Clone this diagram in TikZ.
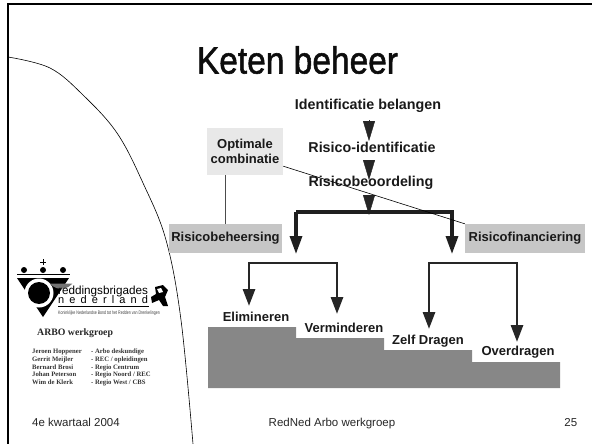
\documentclass[tikz,border=0pt]{standalone}
\usepackage{fontspec}
\setmainfont{Liberation Sans}
\newfontfamily\serifarbo{Liberation Serif}
\newfontfamily\titelfont[FakeBold = 1.5]{Liberation Sans}
\usetikzlibrary{calc, arrows.meta}

\tikzset{
	kopje/.style = {font = \bfseries\fontsize{13}{15}\selectfont, align = center, text = black!90},
	groot/.style = {kopje, font = \bfseries\fontsize{14.3}{16}\selectfont},
	blokje/.style = {kopje, fill = gray!45, minimum width = 113pt, minimum height = 29pt, inner sep = 0pt},
	voet/.style = {font = \fontsize{11.5}{13}\selectfont, text = black!85, inner sep = 0pt},
	naam/.style = {font = \serifarbo\bfseries\fontsize{6.7}{7}\selectfont, anchor = base west, inner sep = 0pt, text = black!80},
	pijl/.style = {line width = 3.3pt, draw = black!88, -{Triangle[width = 12pt, length = 18pt]}},
	tak/.style = {line width = 2.9pt, draw = black!85, -{Triangle[width = 12pt, length = 17pt]}},
	stap/.style = {draw = black!85, fill = black!85, -{Triangle[width = 12pt, length = 20pt]}}
}

\begin{document}
\begin{tikzpicture}[x = 1pt, y = -1pt]
		\def\xMAX{592};
		\def\yMAX{444};

		\useasboundingbox (0,0) rectangle (\xMAX,\yMAX);

		\draw [line width = 2pt] (8,\yMAX) -- (8,4) -- (\xMAX,4);
		\draw [line width = 0.6pt] plot [smooth, tension = 0.6] coordinates {(8,57) (50,68) (83,95) (117,133) (143,183) (166,240) (181,320) (193,\yMAX)};

		\node [font = \titelfont\fontsize{33.5}{36}\selectfont, text = black!95, yscale = 1.13] (Titel) at (297.5,60) {Keten beheer};

		\fill [black!47] (208,388) -- (208,327) -- (296,327) -- (296,338) -- (384,338) -- (384,350) -- (472,350) -- (472,362) -- (560,362) -- (560,388) -- cycle;

		\node [groot] (Identificatie) at (368,106) {Identificatie belangen};
		\node [groot] (RisicoId) at (372,147) {Risico-identificatie};
		\node [groot] (Beoordeling) at (371,183) {Risicobeoordeling};

		\node [kopje, fill = gray!18, minimum width = 76pt, minimum height = 47pt, inner sep = 0pt] (Optimale) at (245,151.5) {Optimale\\combinatie};
		\node [blokje] (Beheersing) at (225.5,238.5) {Risicobeheersing};
		\node [blokje, minimum width = 120pt] (Financiering) at (525,238.5) {Risicofinanciering};

		\coordinate (Splits) at (369,212);
		\coordinate (SplitsL) at (296,212);
		\coordinate (SplitsR) at (452,212);
		\coordinate (EindL) at (296,254);
		\coordinate (EindR) at (452,254);

		\draw [stap] (369,120) -- (369,141);
		\draw [stap] (369,160) -- (369,180);
		\draw [stap] (369,195) -- (369,215);

		\draw [pijl] (EindL |- Splits) -- (SplitsR) -- (EindR);
		\draw [pijl] (SplitsL) -- (EindL);

		\draw [line width = 1.2pt, black!70] (Optimale.south -| Beheersing) -- (Beheersing.north);
		\draw [line width = 0.6pt] (Optimale.-21) -- (Financiering.north west);

		\node [kopje] (Elimineren) at (256,317) {Elimineren};
		\node [kopje] (Verminderen) at (344,328) {Verminderen};
		\node [kopje] (ZelfDragen) at (428,341) {Zelf Dragen};
		\node [kopje] (Overdragen) at (518,352) {Overdragen};

		\coordinate (TakA) at (249,263);
		\coordinate (TakB) at (337,263);
		\coordinate (TakC) at (429,263);
		\coordinate (TakD) at (517,263);

		\draw [tak] (TakB) -- (TakA) -- (249,306);
		\draw [tak] (TakA) -- (TakB) -- (337,314);
		\draw [tak] (TakD) -- (TakC) -- (429,329);
		\draw [tak] (TakC) -- (TakD) -- (517,342);

		\begin{scope}
			\fill (24,270) circle (3);
			\fill (43,270) circle (3);
			\fill (63,270) circle (3);
			\draw [line width = 0.6pt] (40,262) -- (46,262) (43,259) -- (43,265);
			\draw [line width = 1pt] (17,274.5) -- (70,274.5);
			\fill (17,278) -- (69,278) -- (43,317) -- cycle;
			\fill [white] (39,293) circle (14.5);
			\fill [black!55] (39,293) ++(-40:14.5) arc (-40:-140:-14.5) -- cycle;
			\fill [black] (39,293) circle (11);
			\node [font = \fontsize{11.7}{13}\selectfont, anchor = west, inner sep = 0pt] (Brigades) at (58,291) {reddingsbrigades};
			\node [font = \fontsize{11}{13}\selectfont, anchor = west, inner sep = 0pt] (Nederland) at (58,300) {n\hskip 5.1pt e\hskip 5.1pt d\hskip 5.1pt e\hskip 5.1pt r\hskip 5.1pt l\hskip 5.1pt a\hskip 5.1pt n\hskip 5.1pt d};
			\draw [line width = 0.8pt] (58,306) -- (149,306);
			\node [font = \fontsize{3.6}{4}\selectfont, anchor = west, inner sep = 0pt, text = black!75, yscale = 1.4] (Bond) at (58,313) {Koninklijke Nederlandse Bond tot het Redden van Drenkelingen};
			\fill (155,287) -- (163,285) -- (168,290) -- (165,297) -- (168,306) -- (163,306) -- (159,300) -- (152,303) -- (151,297) -- (156,294) -- cycle;
			\fill [white] (157,289) -- (161,288) -- (163,292) -- (159,293) -- cycle;
		\end{scope}

		\node [font = \serifarbo\bfseries\fontsize{9.8}{11}\selectfont, anchor = west, inner sep = 0pt, text = black!85] (Arbo) at (37,333) {ARBO werkgroep};

		\node [naam] (NaamA) at (32,353) {Jeroen Hoppener};
		\node [naam] (NaamB) at (32,361) {Gerrit Meijler};
		\node [naam] (NaamC) at (32,369) {Bernard Brosi};
		\node [naam] (NaamD) at (32,376) {Johan Peterson};
		\node [naam] (NaamE) at (32,384) {Wim de Klerk};
		\node [naam] (TaakA) at (91,353) {- Arbo deskundige};
		\node [naam] (TaakB) at (91,361) {- REC / opleidingen};
		\node [naam] (TaakC) at (91,369) {- Regio Centrum};
		\node [naam] (TaakD) at (91,376) {- Regio Noord / REC};
		\node [naam] (TaakE) at (91,384) {- Regio West / CBS};

		\node [voet, anchor = base west] (Kwartaal) at (32,426) {4e kwartaal 2004};
		\node [voet, anchor = base] (Werkgroep) at (332,426) {RedNed Arbo werkgroep};
		\node [voet, anchor = base] (Pagina) at (570.8,426) {25};
	\end{tikzpicture}
\end{document}
